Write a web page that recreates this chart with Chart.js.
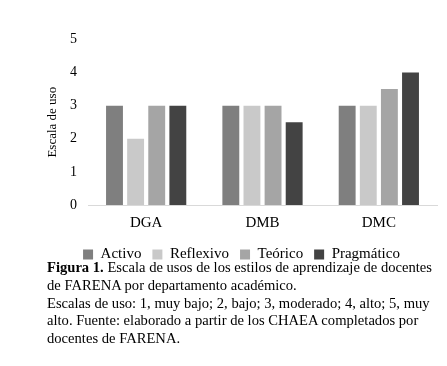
<!DOCTYPE html>
<html>
<head>
<meta charset="utf-8">
<script src="https://cdn.jsdelivr.net/npm/chart.js@4.4.0/dist/chart.umd.min.js"></script>
<style>
  html, body { margin: 0; padding: 0; background: #fff; }
  body { width: 447px; height: 366px; position: relative; overflow: hidden; }
  #wrap { position: absolute; left: 46px; top: 20px; width: 401px; height: 257px; }
  #caption {
    position: absolute; left: 47px; top: 259px; width: 400px;
    font-family: "Liberation Serif", serif; font-size: 14.6px; line-height: 17.8px; color: #000;
  }
  #caption div { white-space: nowrap; }
</style>
</head>
<body>
<div id="wrap"><canvas id="barChart"></canvas></div>
<div id="caption">
  <div><b>Figura 1.</b> Escala de usos de los estilos de aprendizaje de docentes</div>
  <div>de FARENA por departamento académico.</div>
  <div>Escalas de uso: 1, muy bajo; 2, bajo; 3, moderado; 4, alto; 5, muy</div>
  <div>alto. Fuente: elaborado a partir de los CHAEA completados por</div>
  <div>docentes de FARENA.</div>
</div>
<script>
const departments = ['DGA', 'DMB', 'DMC'];
const activo = [3, 3, 3];
const reflexivo = [2, 3, 3];
const teorico = [3, 3, 3.5];
const pragmatico = [3, 2.5, 4];
const yTicks = [0, 1, 2, 3, 4, 5];

const serif = "'Liberation Serif', 'Times New Roman', serif";
Chart.defaults.font.family = serif;
Chart.defaults.color = '#000';

// legend padding also spaces the items apart, so pull the row back up a bit
const legendNudge = {
  id: 'legendNudge',
  afterLayout: (chart) => {
    chart.legend.top -= 5;
    chart.legend.bottom -= 5;
  }
};

const barCtx = document.getElementById('barChart');
const barChart = new Chart(barCtx, {
  type: 'bar',
  data: {
    labels: departments,
    datasets: [
      { label: 'Activo', data: activo, backgroundColor: '#7f7f7f' },
      { label: 'Reflexivo', data: reflexivo, backgroundColor: '#c9c9c9' },
      { label: 'Teórico', data: teorico, backgroundColor: '#a5a5a5' },
      { label: 'Pragmático', data: pragmatico, backgroundColor: '#434343' }
    ]
  },
  plugins: [legendNudge],
  options: {
    responsive: true,
    maintainAspectRatio: false,
    animation: false,
    datasets: { bar: { categoryPercentage: 0.726, barPercentage: 0.8 } },
    layout: { padding: { right: 10, top: 0, bottom: 0 } },
    plugins: {
      tooltip: { enabled: false },
      legend: {
        position: 'bottom',
        labels: {
          color: '#000',
          font: { family: serif, size: 15 },
          boxWidth: 10, boxHeight: 10, padding: 11
        }
      }
    },
    scales: {
      x: {
        grid: { display: false, drawTicks: false },
        border: { color: '#d9d9d9', width: 1 },
        ticks: { color: '#000', font: { family: serif, size: 15 }, padding: 9 }
      },
      y: {
        min: yTicks[0],
        max: yTicks[yTicks.length - 1],
        afterBuildTicks: (axis) => { axis.ticks = yTicks.map((v) => ({ value: v })); },
        grid: { display: false, drawTicks: false },
        border: { display: false },
        ticks: { color: '#000', font: { family: serif, size: 14 }, padding: 11 },
        title: { display: true, text: 'Escala de uso', color: '#000', font: { family: serif, size: 13, lineHeight: 1 }, padding: 0 }
      }
    }
  }
});
</script>
</body>
</html>
